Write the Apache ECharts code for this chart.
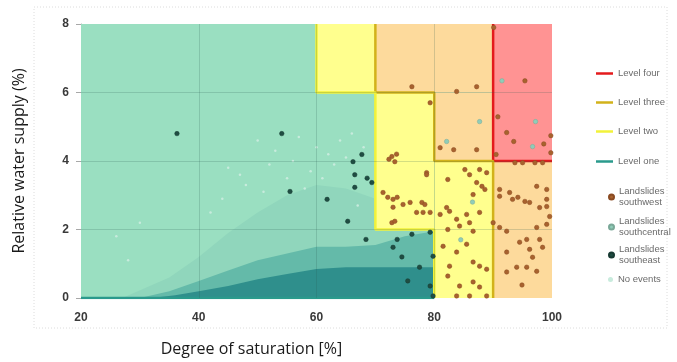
<!DOCTYPE html>
<html>
<head>
<meta charset="utf-8">
<script src="https://cdn.jsdelivr.net/npm/echarts@6/dist/echarts.min.js"></script>
<style>
  html, body { margin: 0; padding: 0; background: #fff; }
  #chart { width: 677px; height: 362px; }
</style>
</head>
<body>
<div id="chart"></div>
<script>
// axis ticks
const xTicks = [20, 40, 60, 80, 100]
const yTicks = [0, 2, 4, 6, 8]

// warning zones, boxes as [x0, y0, x1, y1]
const zoneOne = [[20, 0, 100, 8]]
const zoneTwo = [[60, 6, 70, 8], [70, 2, 80, 6], [80, 0, 90, 4]]
const zoneThree = [[70, 6, 90, 8], [80, 4, 90, 6], [90, 0, 100, 4]]
const zoneFour = [[90, 4, 100, 8]]

// threshold borders
const levelFour = [[90, 8], [90, 4], [100, 4]]
const levelThree = [[70, 8], [70, 6], [80, 6], [80, 4], [90, 4], [90, 0]]
const levelTwo = [[60, 8], [60, 6], [70, 6], [70, 2], [80, 2], [80, 0]]
const levelOne = [[20, 0], [80, 0]]

// landslide events
const southwest = [
  [76.2, 6.17], [83.8, 6.03], [87.2, 6.17], [79.3, 5.7], [81.0, 4.39], [83.3, 4.33], [87.2, 4.33],
  [72.8, 4.13], [73.6, 4.2], [72.3, 4.05], [73.3, 3.98], [78.7, 3.66], [71.3, 3.08], [72.1, 2.94],
  [73.0, 2.65], [72.8, 2.2], [73.3, 2.24], [85.2, 3.75], [87.7, 3.75], [88.9, 3.66], [78.7, 3.6],
  [86.0, 3.6], [82.3, 3.46], [87.2, 3.37], [88.1, 3.26], [91.1, 3.17], [92.8, 3.08], [97.4, 3.26],
  [99.1, 3.17], [94.2, 2.94], [95.4, 2.82], [73.0, 2.88], [74.7, 2.73], [75.9, 2.79], [77.9, 2.79],
  [78.1, 2.5], [79.3, 2.5], [81.0, 2.44], [82.6, 2.53], [85.5, 2.44], [87.7, 2.5], [83.8, 2.3],
  [86.0, 2.2], [84.3, 2.1], [82.3, 2.0], [86.6, 1.95], [90.0, 2.2], [91.1, 2.06], [92.3, 1.95],
  [97.4, 2.06], [99.1, 2.15], [99.6, 2.38], [99.1, 2.67], [99.1, 2.88], [95.7, 1.71], [97.9, 1.71],
  [98.4, 1.48], [96.2, 1.42], [94.5, 1.63], [92.3, 1.34], [96.7, 1.19], [94.0, 0.9], [95.7, 0.9],
  [97.4, 0.78], [92.3, 0.76], [94.9, 0.38], [87.7, 0.93], [88.9, 0.84], [86.6, 1.05], [82.6, 0.93],
  [81.5, 1.51], [83.8, 1.34], [85.5, 1.57], [82.3, 0.64], [84.3, 0.35], [86.6, 0.47], [87.7, 0.32],
  [83.8, 0.06], [86.0, 0.06], [88.9, 0.06], [93.7, 3.95], [95.0, 3.95], [97.1, 3.95], [98.4, 3.95],
  [73.7, 2.94], [77.0, 2.5], [78.4, 2.73], [82.1, 2.64], [86.6, 3.02], [88.6, 3.17], [91.1, 2.97],
  [93.3, 2.88], [96.2, 2.79], [97.9, 2.64],
  [90.1, 7.9], [95.4, 6.34], [90.8, 5.29], [92.3, 4.83], [99.8, 4.74], [93.5, 4.57], [98.6, 4.5],
  [99.8, 4.24], [90.5, 4.19]
]
const southcentral = [
  [91.5, 6.34], [97.2, 5.15], [96.7, 4.42], [87.7, 5.15], [82.1, 4.57], [84.5, 1.7], [86.5, 2.8]
]
const southeast = [
  [36.3, 4.8], [54.1, 4.8], [67.7, 4.19], [66.2, 3.98], [66.5, 3.6], [68.6, 3.5], [69.4, 3.37],
  [66.5, 3.23], [55.5, 3.11], [61.8, 2.88], [65.3, 2.24], [68.4, 1.71], [73.0, 1.48], [79.8, 0.06],
  [79.3, 1.92], [76.2, 1.86], [73.7, 1.71], [79.8, 1.22], [79.3, 0.35], [74.5, 1.2], [77.5, 0.9],
  [75.5, 0.5]
]
// sparse no-event speckles
const noEvents = [
  [45, 3.8], [50, 4.6], [52, 3.9], [57, 4.7], [60, 4.4], [62, 4.2], [64, 4.6], [66, 4.8], [59, 3.7],
  [63, 3.9], [48, 3.3], [55, 3.5], [68, 4.4], [26, 1.8], [30, 2.2], [28, 1.1], [44, 2.9], [47, 3.6],
  [53, 4.3], [58, 3.2], [61, 3.5], [65, 4.1], [67, 2.7], [42, 2.5], [51, 3.1], [56, 4.0]
]
// outline of the dense no-event cloud (light, medium, dark bands)
const cloudLight = [[27, 0], [35, 0.6], [40, 1.2], [45, 1.9], [50, 2.5], [55, 3.0], [60, 3.3], [65, 3.2],
  [70, 2.9], [70, 2.0], [80, 2.0], [80, 0]]
const cloudMid = [[30, 0], [35, 0.2], [40, 0.5], [45, 0.8], [50, 1.1], [55, 1.3], [60, 1.5], [65, 1.5],
  [70, 1.55], [75, 1.8], [80, 1.95], [80, 0]]
const cloudDark = [[32, 0], [36, 0.08], [40, 0.2], [45, 0.35], [50, 0.55], [55, 0.7], [60, 0.85],
  [65, 0.9], [70, 0.9], [75, 0.9], [80, 0.9], [80, 0]]

const legendLabels = {
  'Level four': 'Level four',
  'Level three': 'Level three',
  'Level two': 'Level two',
  'Level one': 'Level one',
  'Landslides southwest': 'Landslides\nsouthwest',
  'Landslides southcentral': 'Landslides\nsouthcentral',
  'Landslides southeast': 'Landslides\nsoutheast',
  'No events': 'No events'
}

const boxes = (list, color) => list.map(b => [
  { coord: [b[0], b[1]], itemStyle: { color: color } },
  { coord: [b[2], b[3]] }
])

const chart = echarts.init(document.getElementById('chart'))

const legendItem = (name, top, isLine) => ({
  data: [name],
  orient: 'vertical',
  left: isLine ? 596 : 608,
  top: top,
  padding: 0,
  icon: isLine ? 'rect' : 'circle',
  itemWidth: isLine ? 17 : 5,
  itemHeight: isLine ? 2.5 : 5,
  selectedMode: false,
  formatter: n => legendLabels[n],
  textStyle: { fontSize: 9.5, lineHeight: 11, color: '#6a6a6a', fontFamily: 'Liberation Sans' }
})

const cloud = (name, data, color) => ({
  name: name,
  type: 'line',
  data: data,
  symbol: 'none',
  silent: true,
  z: 1,
  lineStyle: { width: 0 },
  areaStyle: { color: color, opacity: 1 }
})

const scatter = (name, data, color, border) => ({
  name: name,
  type: 'scatter',
  data: data,
  symbolSize: 4.5,
  z: 5,
  itemStyle: { color: color, borderColor: border, borderWidth: 0.5, opacity: 1 }
})

const border = (name, data, color) => ({
  name: name,
  type: 'line',
  data: data,
  symbol: 'none',
  z: 4,
  lineStyle: { width: 2.5, color: color },
  itemStyle: { color: color }
})

// grid lines on top of the zone fills
const gridLines = [].concat(
  xTicks.slice(1, -1).map(v => ({ xAxis: v })),
  yTicks.slice(1, -1).map(v => ({ yAxis: v }))
)

chart.setOption({
  animation: false,
  grid: { left: 81, right: 125, top: 24, bottom: 63 },
  graphic: [{
    type: 'rect',
    shape: { x: 34, y: 7, width: 633, height: 321 },
    style: { fill: 'none', stroke: '#dcdcdc', lineWidth: 1, lineDash: [1, 2] },
    silent: true
  }],
  legend: [
    legendItem('Level four', 68, true),
    legendItem('Level three', 97, true),
    legendItem('Level two', 126, true),
    legendItem('Level one', 156, true),
    legendItem('Landslides southwest', 186, false),
    legendItem('Landslides southcentral', 216, false),
    legendItem('Landslides southeast', 244, false),
    legendItem('No events', 274, false)
  ],
  xAxis: {
    type: 'value',
    min: xTicks[0],
    max: xTicks[xTicks.length - 1],
    interval: 20,
    name: 'Degree of saturation [%]',
    nameLocation: 'middle',
    nameGap: 43,
    nameTextStyle: { fontSize: 16, color: '#1a1a1a', fontFamily: 'Open Sans', padding: [0, 130, 0, 0] },
    axisLine: { show: false },
    axisTick: { show: false },
    axisLabel: { margin: 14, fontSize: 12, fontWeight: 'bold', color: '#3a3a3a', fontFamily: 'Liberation Sans' },
    splitLine: { show: false }
  },
  yAxis: {
    type: 'value',
    min: yTicks[0],
    max: yTicks[yTicks.length - 1],
    interval: 2,
    name: 'Relative water supply (%)',
    nameLocation: 'middle',
    nameGap: 54,
    nameTextStyle: { fontSize: 16, color: '#1a1a1a', fontFamily: 'Open Sans' },
    axisLine: { show: true, lineStyle: { color: '#a8a8a8', width: 1 } },
    axisTick: { show: true, length: 5, lineStyle: { color: '#a8a8a8' } },
    axisLabel: { margin: 12, fontSize: 12, fontWeight: 'bold', color: '#3a3a3a', fontFamily: 'Liberation Sans' },
    splitLine: { show: false }
  },
  series: [
    {
      name: 'zones',
      type: 'line',
      data: [],
      z: 0,
      silent: true,
      markArea: {
        silent: true,
        data: [].concat(
          boxes(zoneOne, '#9adfc1'),
          boxes(zoneTwo, '#ffff8e'),
          boxes(zoneThree, '#fdda9c'),
          boxes(zoneFour, '#ff9393')
        )
      }
    },
    {
      name: 'grid',
      type: 'line',
      data: [],
      z: 0.5,
      silent: true,
      markLine: {
        silent: true,
        symbol: 'none',
        label: { show: false },
        lineStyle: { type: 'solid', width: 1, color: 'rgba(40,90,80,0.2)' },
        data: gridLines
      }
    },
    cloud('cloud light', cloudLight, '#90d6bc'),
    cloud('cloud mid', cloudMid, '#64baa9'),
    cloud('cloud dark', cloudDark, '#2f8f8c'),
    border('Level four', levelFour, '#e41a1c'),
    border('Level three', levelThree, '#d2b21a'),
    border('Level two', levelTwo, '#f2f23a'),
    border('Level one', levelOne, '#2a9a8c'),
    scatter('Landslides southwest', southwest, '#a8622e', '#8a4a22'),
    scatter('Landslides southcentral', southcentral, '#8fcdb8', '#7aa898'),
    scatter('Landslides southeast', southeast, '#1f4d42', '#173a32'),
    {
      name: 'No events',
      type: 'scatter',
      data: noEvents,
      symbolSize: 2.5,
      z: 3,
      itemStyle: { color: '#c8ebdd', opacity: 1 }
    }
  ]
})
</script>
</body>
</html>
